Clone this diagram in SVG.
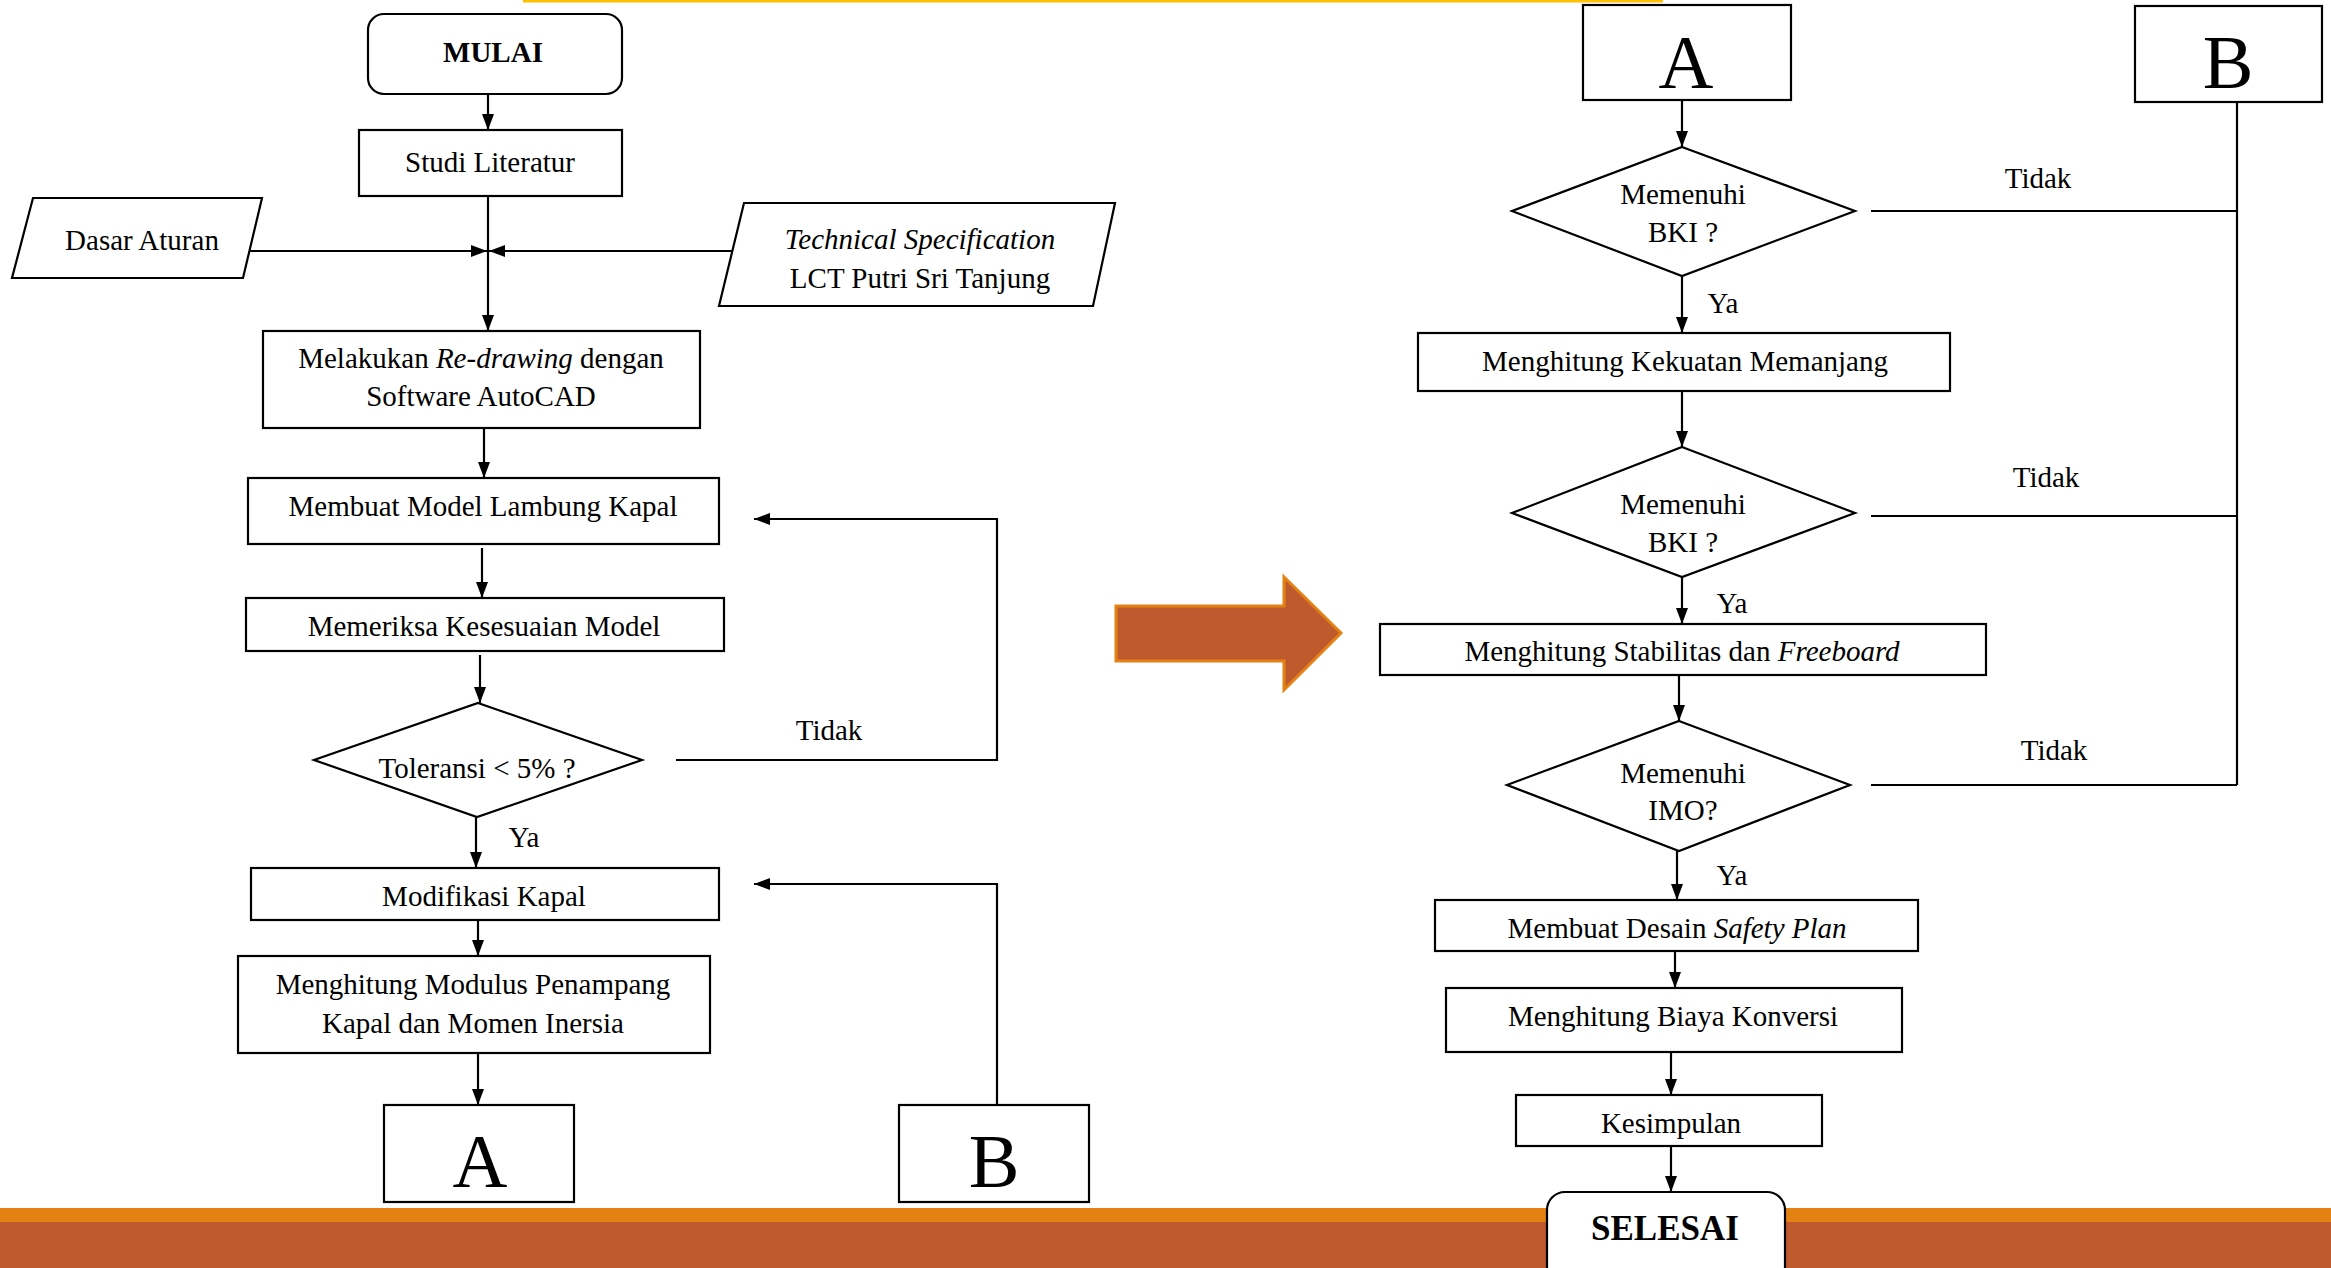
<svg xmlns="http://www.w3.org/2000/svg" width="2331" height="1268" viewBox="0 0 2331 1268">
<defs>
<marker id="ah" markerUnits="userSpaceOnUse" markerWidth="16" markerHeight="12" viewBox="0 0 16 12" refX="16" refY="6" orient="auto">
<path d="M0,0 L16,6 L0,12 Z" fill="#000"/>
</marker>
</defs>
<style>
.bx{fill:#fff;stroke:#000;stroke-width:2.2}
.cn{fill:none;stroke:#000;stroke-width:2.2}
.ar{marker-end:url(#ah)}
text{font-family:"Liberation Serif","Times New Roman",serif;fill:#000;font-size:29px;text-anchor:middle}
.bold{font-weight:bold}
.big{font-size:76px}
.it{font-style:italic}
</style>
<rect x="0" y="0" width="2331" height="1268" fill="#fff"/>
<rect x="523" y="0" width="1140" height="2.5" fill="#FFC000"/>
<g id="footer">
<rect x="0" y="1208" width="2331" height="14" fill="#E38213"/>
<rect x="0" y="1222" width="2331" height="46" fill="#BE5A2E"/>
</g>
<g id="big-arrow">
<path d="M1116,606 H1284 V577 L1341,633 L1284,690 V661 H1116 Z" fill="#BE5A2E" stroke="#E38213" stroke-width="3"/>
</g>
<g id="connectors">
<path class="cn ar" d="M488,94 V130"/>
<path class="cn ar" d="M488,196 V331"/>
<path class="cn ar" d="M249,251 H487"/>
<path class="cn ar" d="M732,251 H489"/>
<path class="cn ar" d="M484,428 V478"/>
<path class="cn ar" d="M482,548 V598"/>
<path class="cn ar" d="M480,655 V703"/>
<path class="cn ar" d="M676,760 H997 V519 H754"/>
<path class="cn ar" d="M476,817 V868"/>
<path class="cn ar" d="M478,920 V956"/>
<path class="cn ar" d="M478,1053 V1105"/>
<path class="cn ar" d="M997,1105 V884 H754"/>
<path class="cn ar" d="M1682,100 V147"/>
<path class="cn" d="M1871,211 H2237"/>
<path class="cn" d="M2237,102 V785"/>
<path class="cn ar" d="M1682,276 V333"/>
<path class="cn ar" d="M1682,391 V447"/>
<path class="cn" d="M1871,516 H2237"/>
<path class="cn ar" d="M1682,577 V624"/>
<path class="cn ar" d="M1679,675 V721"/>
<path class="cn" d="M1871,785 H2237"/>
<path class="cn ar" d="M1677,851 V900"/>
<path class="cn ar" d="M1675,951 V988"/>
<path class="cn ar" d="M1671,1052 V1095"/>
<path class="cn ar" d="M1671,1146 V1192"/>
<text x="829" y="740">Tidak</text>
<text x="524" y="847">Ya</text>
<text x="2038" y="188">Tidak</text>
<text x="1723" y="313">Ya</text>
<text x="2046" y="487">Tidak</text>
<text x="1732" y="613">Ya</text>
<text x="2054" y="760">Tidak</text>
<text x="1732" y="885">Ya</text>
</g>
<g id="mulai">
<rect class="bx" x="368" y="14" width="254" height="80" rx="16"/>
<text class="bold" x="493" y="62">MULAI</text>
</g>
<g id="studi">
<rect class="bx" x="359" y="130" width="263" height="66"/>
<text x="490" y="172">Studi Literatur</text>
</g>
<g id="dasar">
<path class="bx" d="M33,198 H262 L243,278 H12 Z"/>
<text x="142" y="250">Dasar Aturan</text>
</g>
<g id="techspec">
<path class="bx" d="M744,203 H1115 L1093,306 H719 Z"/>
<text class="it" x="920" y="249">Technical Specification</text>
<text x="920" y="288">LCT Putri Sri Tanjung</text>
</g>
<g id="redrawing">
<rect class="bx" x="263" y="331" width="437" height="97"/>
<text x="481" y="368">Melakukan <tspan class="it">Re-drawing</tspan> dengan</text>
<text x="481" y="406">Software AutoCAD</text>
</g>
<g id="model">
<rect class="bx" x="248" y="478" width="471" height="66"/>
<text x="483" y="516">Membuat Model Lambung Kapal</text>
</g>
<g id="periksa">
<rect class="bx" x="246" y="598" width="478" height="53"/>
<text x="484" y="636">Memeriksa Kesesuaian Model</text>
</g>
<g id="toleransi">
<path class="bx" d="M478,703 L642,760 L477,817 L314,760 Z"/>
<text x="477" y="778">Toleransi &lt; 5% ?</text>
</g>
<g id="modifikasi">
<rect class="bx" x="251" y="868" width="468" height="52"/>
<text x="484" y="906">Modifikasi Kapal</text>
</g>
<g id="modulus">
<rect class="bx" x="238" y="956" width="472" height="97"/>
<text x="473" y="994">Menghitung Modulus Penampang</text>
<text x="473" y="1033">Kapal dan Momen Inersia</text>
</g>
<g id="a-out">
<rect class="bx" x="384" y="1105" width="190" height="97"/>
<text class="big" x="480" y="1187">A</text>
</g>
<g id="b-in">
<rect class="bx" x="899" y="1105" width="190" height="97"/>
<text class="big" x="994" y="1187">B</text>
</g>
<g id="a-in">
<rect class="bx" x="1583" y="5" width="208" height="95"/>
<text class="big" x="1686" y="88">A</text>
</g>
<g id="b-out">
<rect class="bx" x="2135" y="6" width="187" height="96"/>
<text class="big" x="2228" y="88">B</text>
</g>
<g id="bki1">
<path class="bx" d="M1682,147 L1855,211 L1682,276 L1512,211 Z"/>
<text x="1683" y="204">Memenuhi</text>
<text x="1683" y="242">BKI ?</text>
</g>
<g id="kekuatan">
<rect class="bx" x="1418" y="333" width="532" height="58"/>
<text x="1685" y="371">Menghitung Kekuatan Memanjang</text>
</g>
<g id="bki2">
<path class="bx" d="M1682,447 L1855,513 L1682,577 L1512,513 Z"/>
<text x="1683" y="514">Memenuhi</text>
<text x="1683" y="552">BKI ?</text>
</g>
<g id="stabilitas">
<rect class="bx" x="1380" y="624" width="606" height="51"/>
<text x="1682" y="661">Menghitung Stabilitas dan <tspan class="it">Freeboard</tspan></text>
</g>
<g id="imo">
<path class="bx" d="M1679,721 L1850,785 L1679,851 L1507,785 Z"/>
<text x="1683" y="783">Memenuhi</text>
<text x="1683" y="820">IMO?</text>
</g>
<g id="safety">
<rect class="bx" x="1435" y="900" width="483" height="51"/>
<text x="1677" y="938">Membuat Desain <tspan class="it">Safety Plan</tspan></text>
</g>
<g id="biaya">
<rect class="bx" x="1446" y="988" width="456" height="64"/>
<text x="1673" y="1026">Menghitung Biaya Konversi</text>
</g>
<g id="kesimpulan">
<rect class="bx" x="1516" y="1095" width="306" height="51"/>
<text x="1671" y="1133">Kesimpulan</text>
</g>
<g id="selesai">
<rect class="bx" x="1547" y="1192" width="238" height="100" rx="18"/>
<text class="bold" x="1665" y="1240" style="font-size:35px">SELESAI</text>
</g>
</svg>
